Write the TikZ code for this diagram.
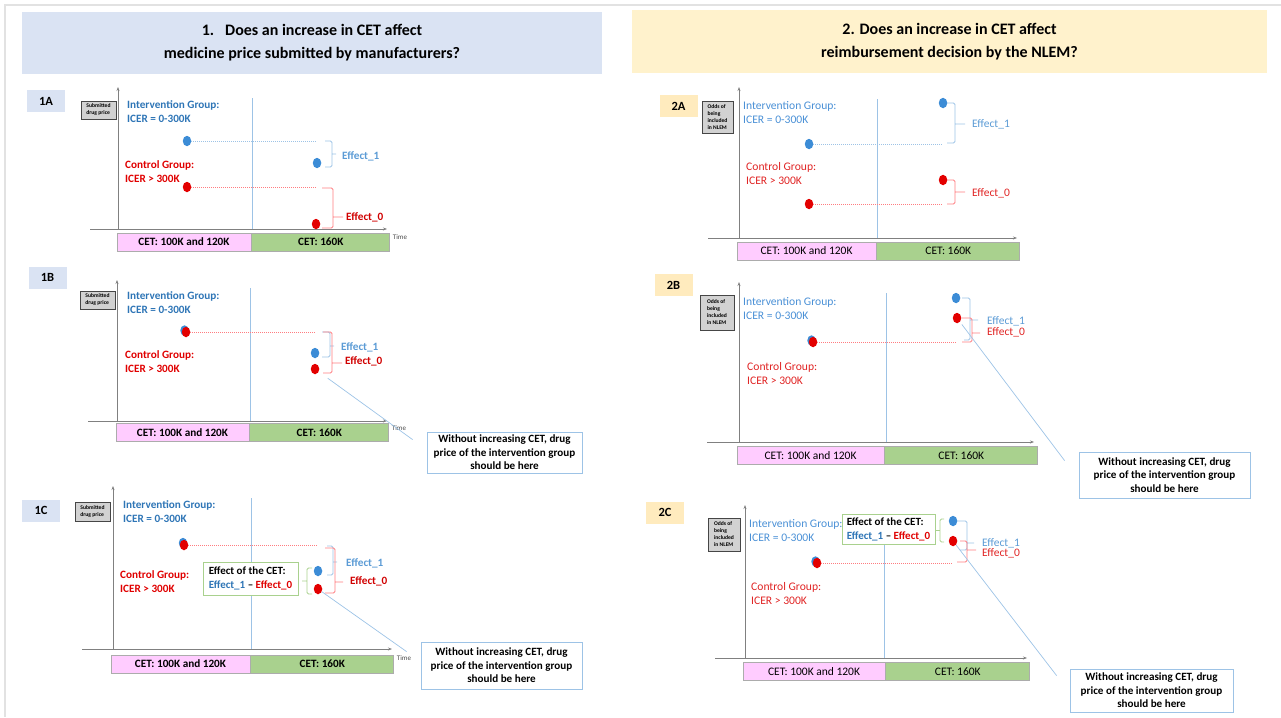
\documentclass[tikz,border=0pt]{standalone}
\usepackage{fontspec}
\setmainfont{Carlito}
\usetikzlibrary{arrows.meta,positioning,shapes.geometric}
\definecolor{hdrblue}{HTML}{DAE3F3}
\definecolor{hdryellow}{HTML}{FFF2CC}
\definecolor{tagyellow}{HTML}{FFEBBE}
\definecolor{grpblue}{HTML}{2E75B6}
\definecolor{grpblueb}{HTML}{4A90D6}
\definecolor{effblue}{HTML}{5B9BD5}
\definecolor{dotblue}{HTML}{3C8CD6}
\definecolor{grpred}{HTML}{E00000}
\definecolor{grpredb}{HTML}{E02424}
\definecolor{effred}{HTML}{D00000}
\definecolor{dotred}{HTML}{E30000}
\definecolor{lineblue}{HTML}{9DC3E6}
\definecolor{linered}{HTML}{FF7C80}
\definecolor{cetpink}{HTML}{FFCCFF}
\definecolor{cetgreen}{HTML}{A9D18E}
\definecolor{axisgray}{HTML}{808080}
\definecolor{effgreen}{HTML}{A9D18E}
\definecolor{framegray}{HTML}{E2E2E2}

\begin{document}
\begin{tikzpicture}[x=1pt, y=-1pt,
    hdr/.style={font=\fontsize{16}{23}\selectfont\bfseries, align=center, inner sep=0pt},
    tag/.style={minimum width=38pt, minimum height=22pt, inner sep=0pt,
                font=\fontsize{12.5}{14}\selectfont\bfseries},
    ylab/.style={draw=gray!55!black, fill=gray!35, inner sep=0pt, align=left,
                 line width=0.6pt, font=\fontsize{5.6}{7}\selectfont\bfseries},
    axis/.style={draw=axisgray, line width=0.9pt, -{Stealth[length=4pt,width=3pt]}},
    sep/.style={draw=lineblue, line width=0.7pt},
    timel/.style={font=\fontsize{7}{8}\selectfont, text=black!70, inner sep=0pt},
    cet/.style={draw=gray!65, line width=0.8pt, minimum height=18pt, inner sep=0pt,
                font=\fontsize{11.2}{13}\selectfont\bfseries},
    cetb/.style={cet, font=\fontsize{11.5}{13}\selectfont},
    g1b/.style={anchor=west, inner sep=0pt, align=left, text=grpblue,
                font=\fontsize{11.2}{14}\selectfont\bfseries},
    g1r/.style={g1b, text=grpred},
    g2b/.style={anchor=west, inner sep=0pt, align=left, text=grpblueb,
                font=\fontsize{11.6}{14}\selectfont},
    g2r/.style={g2b, text=grpredb},
    dotb/.style={ellipse, fill=dotblue, minimum width=8.5pt, minimum height=10.5pt, inner sep=0pt},
    dotr/.style={dotb, fill=dotred},
    guideb/.style={draw=lineblue, line width=0.8pt, dash pattern=on 1pt off 1pt},
    guider/.style={guideb, draw=linered},
    brb/.style={draw=lineblue, line width=0.8pt, rounded corners=1.5pt},
    brr/.style={brb, draw=linered},
    brg/.style={brb, draw=effgreen},
    e1b/.style={anchor=west, inner sep=0pt, text=effblue, font=\fontsize{11.2}{13}\selectfont\bfseries},
    e1r/.style={e1b, text=effred},
    e2b/.style={anchor=west, inner sep=0pt, text=effblue, font=\fontsize{11.5}{13}\selectfont},
    e2r/.style={e2b, text=grpredb},
    effbox/.style={draw=effgreen, line width=0.8pt, fill=white, align=left, inner sep=0pt,
                   font=\fontsize{11}{14}\selectfont\bfseries},
    note/.style={draw=lineblue, line width=0.8pt, fill=white, align=center, inner sep=0pt,
                 font=\fontsize{11.1}{13.5}\selectfont\bfseries},
    diag/.style={draw=lineblue, line width=0.7pt}
]
\useasboundingbox (0,0) rectangle (1281,717);
\draw[framegray, line width=1.2pt] (5,717) -- (5,5) -- (1281,5);

% headers
\node[hdr, fill=hdrblue, minimum width=580pt, minimum height=62pt] (h1) at (312,43) {1.\hspace{11pt}Does an increase in CET affect\\medicine price submitted by manufacturers?};
\node[hdr, fill=hdryellow, minimum width=635pt, minimum height=63pt] (h2) at (949.5,41.5) {2. Does an increase in CET affect\\reimbursement decision by the NLEM?};

% ===== 1A =====
\node[tag, fill=hdrblue] (t1A) at (46,101) {1A};
\node[ylab, minimum width=35pt, minimum height=18pt] (y1A) at (98.5,110) {Submitted\\drug price};
\draw[sep] (252,98) -- (252,229);
\draw[axis] (118,229) -- (118,87);
\draw[axis] (90,229) -- (387,229);
\node[timel] (tm1A) at (400,237) {Time};
\node[cet, fill=cetpink, minimum width=134pt] (c1Aa) at (184,242) {CET: 100K and 120K};
\node[cet, fill=cetgreen, minimum width=138pt, right=0pt of c1Aa] (c1Ab) {CET: 160K};
\node[g1b] (i1A) at (127,112) {Intervention Group:\\ICER = 0-300K};
\node[g1r] (k1A) at (125,172) {Control Group:\\ICER > 300K};
\node[dotb] (b1Aa) at (187,141) {};
\node[dotb] (b1Ab) at (317,163) {};
\node[dotr] (r1Aa) at (187,187) {};
\node[dotr] (r1Ab) at (316,224) {};
\draw[guideb] (b1Aa) -- (b1Aa -| b1Ab);
\draw[guider] (r1Aa) -- (r1Aa -| r1Ab);
\draw[brb] (325,141) -- (332,141) -- (332,167) -- (325,167) (332,154) -- (336,154);
\draw[brr] (322,188) -- (333,188) -- (333,228) -- (322,228) (333,217) -- (343,217);
\node[e1b] (f1A1) at (342,156) {Effect\_1};
\node[e1r] (f1A0) at (346,217) {Effect\_0};

% ===== 1B =====
\node[tag, fill=hdrblue] (t1B) at (47.5,277.5) {1B};
\node[ylab, minimum width=35pt, minimum height=18pt] (y1B) at (97.5,300) {Submitted\\drug price};
\draw[sep] (250,288) -- (250,421);
\draw[axis] (117,421) -- (117,280);
\draw[axis] (88,421) -- (387,421);
\node[timel] (tm1B) at (399,428) {Time};
\node[cet, fill=cetpink, minimum width=133pt] (c1Ba) at (182.5,432.5) {CET: 100K and 120K};
\node[cet, fill=cetgreen, minimum width=139pt, right=0pt of c1Ba] (c1Bb) {CET: 160K};
\node[g1b] (i1B) at (127,302.5) {Intervention Group:\\ICER = 0-300K};
\node[g1r] (k1B) at (125,361.5) {Control Group:\\ICER > 300K};
\node[dotb] (b1Ba) at (184.5,330.5) {};
\node[dotr] (r1Ba) at (186,332) {};
\node[dotb] (b1Bb) at (315,353) {};
\node[dotr] (r1Bb) at (315,369) {};
\draw[guider] (r1Ba) -- (r1Ba -| r1Bb);
\draw[brb] (322,332) -- (330,332) -- (330,357) -- (322,357) (330,346) -- (334,346);
\draw[brr] (323,332) -- (332,332) -- (332,373) -- (323,373) (332,363) -- (342,363);
\node[e1b] (f1B1) at (341,347) {Effect\_1};
\node[e1r] (f1B0) at (345,361) {Effect\_0};
\node[note, minimum width=155pt, minimum height=41pt] (n1B) at (504.5,452.5) {Without increasing CET, drug\\price of the intervention group\\should be here};
\draw[diag, shorten <=11pt] (r1Bb) -- ([shift={(-14,8)}]n1B.north west);

% ===== 1C =====
\node[tag, fill=hdrblue] (t1C) at (41,510.5) {1C};
\node[ylab, minimum width=35pt, minimum height=19pt] (y1C) at (92.5,511.5) {Submitted\\drug price};
\draw[sep] (251,498) -- (251,649);
\draw[axis] (113,649) -- (113,486);
\draw[axis] (82,649) -- (392,649);
\node[timel] (tm1C) at (404,658) {Time};
\node[cet, fill=cetpink, minimum width=139pt] (c1Ca) at (180.5,664) {CET: 100K and 120K};
\node[cet, fill=cetgreen, minimum width=143pt, right=0pt of c1Ca] (c1Cb) {CET: 160K};
\node[g1b] (i1C) at (123,512) {Intervention Group:\\ICER = 0-300K};
\node[g1r] (k1C) at (120,581.5) {Control Group:\\ICER > 300K};
\node[dotb] (b1Ca) at (183,543) {};
\node[dotr] (r1Ca) at (184,545) {};
\node[dotb] (b1Cb) at (318,571) {};
\node[dotr] (r1Cb) at (318,589) {};
\draw[guider] (r1Ca) -- (r1Ca -| r1Cb);
\node[effbox, minimum width=95pt, minimum height=33pt] (x1C) at (250.5,578.5) {Effect of the CET:\\{\color{grpblue}Effect\_1} -- {\color{grpred}Effect\_0}};
\draw[brg] (312,568) -- (307,568) -- (307,594) -- (312,594) (307,581) -- (302,581);
\draw[brb] (327,546) -- (333,546) -- (333,575) -- (327,575) (333,562) -- (337,562);
\draw[brr] (325,548) -- (335,548) -- (335,593) -- (325,593) (335,582) -- (343,582);
\node[e1b] (f1C1) at (346,563) {Effect\_1};
\node[e1r] (f1C0) at (350,581) {Effect\_0};
\node[note, minimum width=161pt, minimum height=47pt] (n1C) at (501.5,665.5) {Without increasing CET, drug\\price of the intervention group\\should be here};
\draw[diag] (r1Cb) -- ([shift={(-14,10)}]n1C.north west);

% ===== 2A =====
\node[tag, fill=tagyellow] (t2A) at (678.5,106) {2A};
\node[ylab, minimum width=31pt, minimum height=32pt] (y2A) at (717.5,117) {Odds of\\being\\included\\in NLEM};
\draw[sep] (877,99) -- (877,238);
\draw[axis] (739,238) -- (739,87);
\draw[axis] (708,238) -- (1017,238);
\node[cetb, fill=cetpink, minimum width=139pt] (c2Aa) at (806.5,251) {CET: 100K and 120K};
\node[cetb, fill=cetgreen, minimum width=143pt, right=0pt of c2Aa] (c2Ab) {CET: 160K};
\node[g2b] (i2A) at (743,113) {Intervention Group:\\ICER = 0-300K};
\node[g2r] (k2A) at (746,174) {Control Group:\\ICER > 300K};
\node[dotb] (b2Aa) at (809,144) {};
\node[dotb] (b2Ab) at (943,103) {};
\node[dotr] (r2Aa) at (809,204) {};
\node[dotr] (r2Ab) at (943,180) {};
\draw[guideb] (b2Aa) -- (b2Aa -| b2Ab);
\draw[guider] (r2Aa) -- (r2Aa -| r2Ab);
\draw[brb] (947,103) -- (955,103) -- (955,143) -- (947,143) (955,124) -- (965,124);
\draw[brr] (947,180) -- (955,180) -- (955,204) -- (947,204) (955,192) -- (965,192);
\node[e2b] (f2A1) at (972,124) {Effect\_1};
\node[e2r] (f2A0) at (972,193) {Effect\_0};

% ===== 2B =====
\node[tag, fill=tagyellow] (t2B) at (673.5,285) {2B};
\node[ylab, minimum width=34pt, minimum height=35pt] (y2B) at (717,312.5) {Odds of\\being\\included\\in NLEM};
\draw[sep] (886,293) -- (886,442);
\draw[axis] (739,442) -- (739,282);
\draw[axis] (707,442) -- (1034,442);
\node[cetb, fill=cetpink, minimum width=147pt] (c2Ba) at (810.5,455.5) {CET: 100K and 120K};
\node[cetb, fill=cetgreen, minimum width=153pt, right=0pt of c2Ba] (c2Bb) {CET: 160K};
\node[g2b] (i2B) at (743,309) {Intervention Group:\\ICER = 0-300K};
\node[g2r] (k2B) at (747,374) {Control Group:\\ICER > 300K};
\node[dotb] (b2Ba) at (811.5,340.5) {};
\node[dotr] (r2Ba) at (813,342) {};
\node[dotb] (b2Bb) at (956,298) {};
\node[dotr] (r2Bb) at (957,318) {};
\draw[guider] (r2Ba) -- (r2Ba -| r2Bb);
\draw[brb] (962,298) -- (970,298) -- (970,340) -- (964,340) (970,320) -- (978,320);
\draw[brr] (962,318) -- (972,318) -- (972,342) -- (962,342) (972,333) -- (980,333);
\node[e2b] (f2B1) at (987,321) {Effect\_1};
\node[e2r] (f2B0) at (987,332) {Effect\_0};
\node[note, minimum width=171pt, minimum height=46pt] (n2B) at (1164.5,475) {Without increasing CET, drug\\price of the intervention group\\should be here};
\draw[diag, shorten <=3pt] (r2Bb) -- ([shift={(-14,9)}]n2B.north west);

% ===== 2C =====
\node[tag, fill=tagyellow] (t2C) at (665,512.5) {2C};
\node[ylab, minimum width=32pt, minimum height=33pt] (y2C) at (724,534.5) {Odds of\\being\\included\\in NLEM};
\draw[sep] (884,544) -- (884,658);
\draw[axis] (745,658) -- (745,505);
\draw[axis] (715,658) -- (1027,658);
\node[cetb, fill=cetpink, minimum width=142pt] (c2Ca) at (814,671.5) {CET: 100K and 120K};
\node[cetb, fill=cetgreen, minimum width=144pt, right=0pt of c2Ca] (c2Cb) {CET: 160K};
\node[g2b] (i2C) at (749,531) {Intervention Group:\\ICER = 0-300K};
\node[g2r] (k2C) at (751,593.5) {Control Group:\\ICER > 300K};
\node[dotb] (b2Ca) at (815.5,561.5) {};
\node[dotr] (r2Ca) at (817,563) {};
\node[dotb] (b2Cb) at (953,521) {};
\node[dotr] (r2Cb) at (953,541) {};
\draw[guider] (r2Ca) -- (r2Ca -| r2Cb);
\node[effbox, minimum width=93pt, minimum height=30pt] (x2C) at (888.5,529) {Effect of the CET:\\{\color{grpblue}Effect\_1} -- {\color{grpred}Effect\_0}};
\draw[brg] (944,519) -- (940,519) -- (940,542) -- (944,542) (940,530.5) -- (936,530.5);
\draw[brb] (957,521) -- (967,521) -- (967,550) -- (960,550) (967,543) -- (974,543);
\draw[brr] (960,541) -- (967,541) -- (967,562) -- (957,562) (967,550) -- (976,550);
\node[e2b] (f2C1) at (982,543) {Effect\_1};
\node[e2r] (f2C0) at (982,553) {Effect\_0};
\node[note, minimum width=163pt, minimum height=43pt] (n2C) at (1151.5,690.5) {Without increasing CET, drug\\price of the intervention group\\should be here};
\draw[diag] (r2Cb) -- ([shift={(-13,7)}]n2C.north west);
\end{tikzpicture}
\end{document}
